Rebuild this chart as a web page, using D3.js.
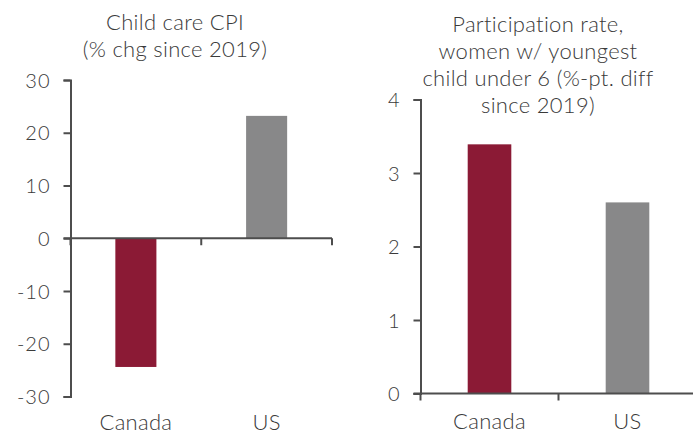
<!DOCTYPE html>
<html lang="en">
  <head>
    <meta charset="utf-8" />
    <title>Child care CPI and participation rate</title>
    <script src="https://cdn.jsdelivr.net/npm/d3@7"></script>
    <style>
      body { margin: 0; background: #fff; }
      text { font-family: Lato, "Open Sans", sans-serif; font-weight: 300; fill: #3a3a3a; }
    </style>
  </head>
  <body>
    <script>
      // data
      var categories = ["Canada", "US"];
      var cpiValues = [-24.4, 23.2];
      var partValues = [3.39, 2.6];
      var cpiTicks = [-30, -20, -10, 0, 10, 20, 30];
      var partTicks = [0, 1, 2, 3, 4];
      var cpiTitle = ["Child care CPI", "(% chg since 2019)"];
      var partTitle = ["Participation rate,", "women w/ youngest", "child under 6 (%-pt. diff", "since 2019)"];
      var barColors = ["#8b1a35", "#888889"];

      var width = 693, height = 436;
      var axisColor = "#4d4d4d";

      var svg = d3.select("body").append("svg")
        .attr("width", width)
        .attr("height", height);

      function panel(opts) {
        var g = svg.append("g");

        var y = d3.scaleLinear().domain(opts.domain).range([opts.bottom, opts.top]);
        var x = d3.scaleBand().domain(categories).range([opts.left, opts.right]).padding(0);

        // bars
        var bw = x.bandwidth() * opts.barFrac;
        g.selectAll(".bar")
          .data(opts.values)
          .enter()
          .append("rect")
          .attr("x", function (d, i) { return x(categories[i]) + (x.bandwidth() - bw) / 2; })
          .attr("y", function (d) { return y(Math.max(0, d)); })
          .attr("width", bw)
          .attr("height", function (d) { return Math.abs(y(d) - y(0)); })
          .attr("fill", function (d, i) { return barColors[i]; });

        // y axis (plain hyphen for negatives, like the original)
        var yAxis = g.append("g")
          .attr("transform", "translate(" + opts.left + ",0)")
          .call(d3.axisLeft(y).tickValues(opts.ticks).tickSize(7).tickPadding(13)
            .tickFormat(function (d) { return String(d); }));
        yAxis.selectAll("text")
          .style("font-size", "20px")
          .style("letter-spacing", "1px")
          .attr("dy", "0.36em");

        // x axis at zero, ticks at the category boundaries
        var x0 = y(0);
        var xAxis = g.append("g");
        xAxis.append("line")
          .attr("x1", opts.left - 7).attr("x2", opts.right)
          .attr("y1", x0).attr("y2", x0);
        var bounds = categories.map(function (c) { return x(c); }).concat([x.range()[1]]);
        xAxis.selectAll(".xt")
          .data(bounds)
          .enter()
          .append("line")
          .attr("x1", function (d) { return d; })
          .attr("x2", function (d) { return d; })
          .attr("y1", x0)
          .attr("y2", x0 + 7);
        xAxis.selectAll("line").attr("stroke", axisColor).attr("stroke-width", 2);

        yAxis.select(".domain").attr("stroke", axisColor).attr("stroke-width", 2);
        yAxis.selectAll(".tick line").attr("stroke", axisColor).attr("stroke-width", 2);

        // category labels
        g.selectAll(".cat")
          .data(categories)
          .enter()
          .append("text")
          .attr("x", function (d) { return x(d) + x.bandwidth() / 2; })
          .attr("y", opts.catY)
          .attr("text-anchor", "middle")
          .style("font-size", "22px")
          .style("letter-spacing", "0.3px")
          .text(function (d) { return d; });

        // title
        g.selectAll(".title")
          .data(opts.title)
          .enter()
          .append("text")
          .attr("x", opts.titleX)
          .attr("y", function (d, i) { return opts.titleY + i * 27; })
          .attr("text-anchor", "middle")
          .style("font-size", "22px")
          .style("letter-spacing", "0.3px")
          .text(function (d) { return d; });
      }

      panel({
        values: cpiValues, domain: [-30, 30], ticks: cpiTicks,
        left: 70.5, right: 332, top: 80, bottom: 396.5, barFrac: 0.314,
        title: cpiTitle, titleX: 175, titleY: 29.5, catY: 430
      });

      panel({
        values: partValues, domain: [0, 4], ticks: partTicks,
        left: 420.5, right: 696.5, top: 99.5, bottom: 393.5, barFrac: 0.316,
        title: partTitle, titleX: 538, titleY: 31.5, catY: 429
      });
    </script>
  </body>
</html>
